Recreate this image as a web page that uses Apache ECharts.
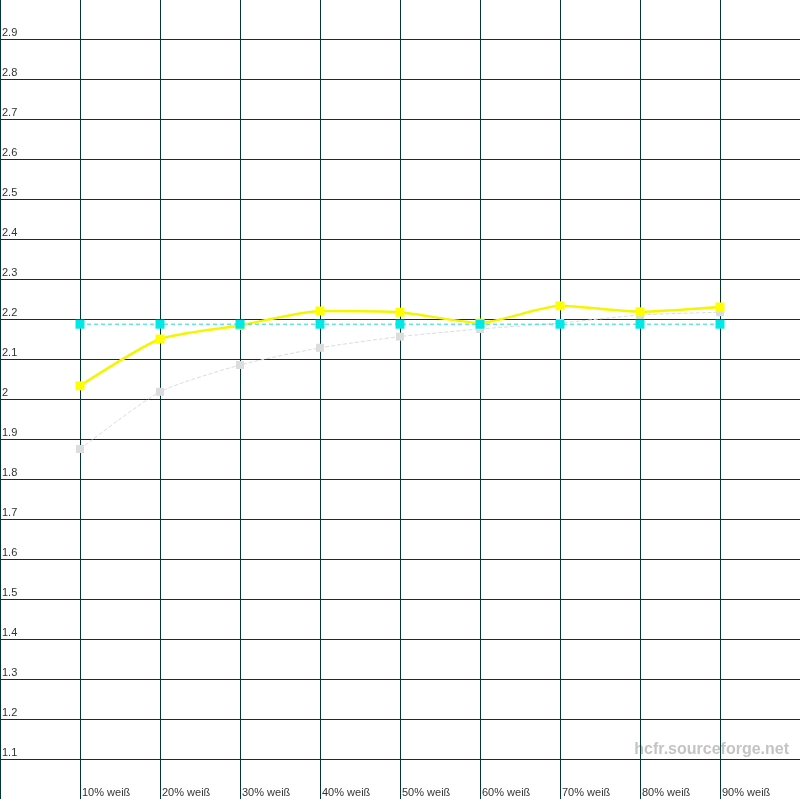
<!DOCTYPE html>
<html>
<head>
<meta charset="utf-8">
<script src="https://cdn.jsdelivr.net/npm/echarts@6/dist/echarts.min.js"></script>
<style>html,body{margin:0;padding:0;background:#fff;overflow:hidden}#c{width:800px;height:800px}</style>
</head>
<body>
<div id="c"></div>
<script>
var categories = ['10% weiß','20% weiß','30% weiß','40% weiß','50% weiß','60% weiß','70% weiß','80% weiß','90% weiß'];
var percents = [10,20,30,40,50,60,70,80,90];
var yellowValues = [2.033, 2.150, 2.184, 2.220, 2.217, 2.190, 2.233, 2.218, 2.230];
var greyValues = [1.875, 2.018, 2.085, 2.128, 2.156, 2.175, 2.190, 2.210, 2.217];
var cyanValues = [2.187, 2.187, 2.187, 2.187, 2.187, 2.187, 2.187, 2.187, 2.187];
var yTicks = ['1.1','1.2','1.3','1.4','1.5','1.6','1.7','1.8','1.9','2','2.1','2.2','2.3','2.4','2.5','2.6','2.7','2.8','2.9'];

function pairs(vals){ return vals.map(function(v,i){ return [percents[i], v]; }); }

var chart = echarts.init(document.getElementById('c'), null, {renderer:'canvas'});
var gridColor = '#003636';
chart.setOption({
  animation:false,
  backgroundColor:'#ffffff',
  grid:{left:0,right:0,top:-1,bottom:1,containLabel:false,outerBoundsMode:'none'},
  xAxis:{
    type:'value', min:0, max:100, interval:10,
    axisLine:{show:false}, axisTick:{show:false},
    splitLine:{show:true, showMaxLine:false, lineStyle:{color:gridColor,width:1}},
    axisLabel:{
      inside:true, margin:1, align:'left', verticalAlign:'bottom',
      padding:[0,0,0,2],
      fontFamily:'Liberation Sans, Arial, sans-serif', fontSize:11, color:'#333333',
      formatter:function(v){ var i = percents.indexOf(Math.round(v)); return i>=0 ? categories[i] : ''; }
    }
  },
  yAxis:{
    type:'value', min:1.0, max:3.0, interval:0.1,
    axisLine:{show:false}, axisTick:{show:false},
    splitLine:{show:true, showMinLine:false, showMaxLine:false, lineStyle:{color:gridColor,width:1}},
    axisLabel:{
      inside:true, margin:2, align:'left', verticalAlign:'bottom',
      padding:[0,0,1,0],
      fontFamily:'Liberation Sans, Arial, sans-serif', fontSize:11, color:'#333333',
      formatter:function(v){ var s = String(Math.round(v*10)/10); return yTicks.indexOf(s)>=0 ? s : ''; }
    }
  },
  graphic:[{
    type:'text', right:11, top:742,
    style:{text:'hcfr.sourceforge.net', fill:'#c4c4c4', font:'bold 16px "Liberation Sans", Arial, sans-serif'}
  }],
  series:[
    {type:'line', data:pairs(greyValues), smooth:0.2, symbol:'rect', symbolSize:8,
     itemStyle:{color:'#dcdcdc'}, lineStyle:{color:'#dcdcdc', width:1, type:'dashed'}, z:2},
    {type:'line', data:pairs(yellowValues), smooth:0.2, symbol:'rect', symbolSize:9,
     itemStyle:{color:'#ffff00'}, lineStyle:{color:'#f5f500', width:2.5}, z:3},
    {type:'line', data:pairs(cyanValues), symbol:'rect', symbolSize:9,
     itemStyle:{color:'#00e8e8'}, lineStyle:{color:'#20d8d8', width:1, type:[4,3]}, z:4}
  ]
});
</script>
</body>
</html>
